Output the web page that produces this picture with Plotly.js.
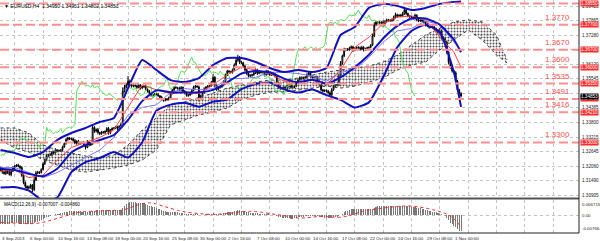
<!DOCTYPE html>
<html><head><meta charset="utf-8">
<script src="https://cdn.plot.ly/plotly-3.0.1.min.js"></script>
<style>body{margin:0;background:#fff}#c{width:600px;height:241px}</style>
</head><body><div id="c"></div>
<script>
// ---- price data (H4 bars, bar 0 = 3 Sep 2013 08:00) ----
const firstOpen = 1.3190;
const closes = [
1.3195,1.3182,1.3176,1.3188,
1.3180,1.3172,1.3185,1.3198,1.3206,1.3210,
1.3205,1.3200,1.3168,1.3140,1.3125,1.3118,
1.3122,1.3130,1.3112,1.3150,1.3178,1.3182,
1.3180,1.3192,1.3215,1.3232,1.3248,1.3252,
1.3250,1.3262,1.3258,1.3270,1.3266,1.3268,
1.3270,1.3282,1.3296,1.3312,1.3318,1.3314,
1.3315,1.3308,1.3298,1.3305,1.3296,1.3300,
1.3300,1.3292,1.3280,1.3302,1.3290,1.3296,
1.3360,1.3345,1.3352,1.3340,1.3335,1.3342,
1.3340,1.3345,1.3356,1.3338,1.3350,1.3357,
1.3358,1.3362,1.3356,1.3365,1.3372,1.3505,
1.3520,1.3530,1.3545,1.3532,1.3525,1.3528,
1.3526,1.3520,1.3530,1.3518,1.3522,1.3525,
1.3512,1.3505,1.3496,1.3490,1.3488,1.3494,
1.3492,1.3486,1.3480,1.3472,1.3468,1.3474,
1.3472,1.3478,1.3495,1.3510,1.3520,1.3518,
1.3516,1.3510,1.3520,1.3505,1.3498,1.3488,
1.3490,1.3495,1.3508,1.3520,1.3525,1.3522,
1.3475,1.3485,1.3500,1.3515,1.3522,1.3525,
1.3526,1.3540,1.3560,1.3530,1.3512,1.3520,
1.3522,1.3530,1.3545,1.3570,1.3585,1.3582,
1.3580,1.3590,1.3610,1.3628,1.3640,1.3620,
1.3618,1.3605,1.3590,1.3575,1.3565,1.3568,
1.3570,1.3578,1.3590,1.3576,1.3582,1.3580,
1.3578,1.3570,1.3585,1.3575,1.3570,1.3575,
1.3572,1.3565,1.3540,1.3520,1.3515,1.3518,
1.3520,1.3515,1.3525,1.3530,1.3520,1.3522,
1.3525,1.3540,1.3550,1.3560,1.3555,1.3558,
1.3560,1.3570,1.3578,1.3565,1.3560,1.3562,
1.3560,1.3545,1.3530,1.3510,1.3505,1.3508,
1.3505,1.3498,1.3490,1.3510,1.3525,1.3528,
1.3530,1.3565,1.3615,1.3645,1.3670,1.3672,
1.3670,1.3676,1.3682,1.3668,1.3675,1.3680,
1.3678,1.3672,1.3680,1.3670,1.3675,1.3678,
1.3680,1.3688,1.3725,1.3770,1.3780,1.3778,
1.3775,1.3780,1.3770,1.3782,1.3790,1.3788,
1.3786,1.3790,1.3800,1.3810,1.3805,1.3808,
1.3805,1.3815,1.3828,1.3815,1.3805,1.3802,
1.3800,1.3795,1.3808,1.3790,1.3785,1.3788,
1.3785,1.3780,1.3770,1.3765,1.3760,1.3762,
1.3760,1.3752,1.3748,1.3740,1.3745,1.3720,
1.3715,1.3700,1.3660,1.3620,1.3600,1.3585,
1.3578,1.3545,1.3510,1.3495,1.3485];
// wick lengths in pips above / below the body
const upWick = [
8,5,6,4, 3,6,5,7,4,3, 5,4,6,8,5,4, 6,5,4,12,8,5, 3,5,6,4,7,3, 6,4,5,7,3,4,
3,5,4,6,5,4, 5,3,6,4,5,3, 4,5,3,8,4,3, 12,5,4,6,3,4, 4,3,5,6,4,3, 3,4,5,4,6,15,
10,8,20,6,5,4, 4,5,6,3,5,4, 6,4,5,3,4,3, 4,5,3,6,4,3, 3,5,6,4,5,4, 4,6,5,3,4,5,
3,4,5,6,4,3, 5,6,4,5,3,4, 4,6,12,5,4,3, 3,5,4,6,5,4, 4,5,6,8,10,5, 5,4,6,3,5,4,
4,5,6,4,5,3, 3,6,5,4,3,4, 4,5,6,3,5,4, 5,4,6,5,4,3, 4,5,6,4,3,4, 5,6,4,5,3,4,
4,5,3,6,4,3, 4,5,6,7,5,4, 3,8,10,6,8,4, 5,6,5,4,6,3, 4,5,6,4,3,4, 3,5,8,10,6,4,
6,4,8,5,4,3, 4,5,6,8,4,3, 5,6,8,4,3,4, 4,5,6,3,4,3, 4,5,3,6,4,3, 5,4,6,5,12,6,
4,5,6,4,5,3, 4,6,5,4,6];
const lowWick = [
5,7,4,6, 6,4,7,3,5,4, 4,6,5,7,9,6, 5,7,10,6,4,5, 6,4,3,5,4,6, 4,6,7,3,5,4,
5,4,3,5,6,4, 4,6,5,7,4,5, 5,4,8,3,6,4, 6,7,5,8,6,4, 5,6,4,7,5,4, 4,5,6,5,4,6,
6,5,4,8,6,5, 5,6,4,7,5,4, 4,6,5,7,6,4, 5,4,6,7,5,4, 6,5,4,3,5,4, 5,4,6,7,6,5,
6,5,4,3,5,4, 12,5,4,6,5,4, 5,4,6,10,6,4, 5,4,6,3,5,4, 4,5,3,4,6,7, 5,6,7,6,5,4,
6,4,5,7,4,5, 5,6,4,6,5,4, 4,6,8,6,5,4, 6,5,4,6,5,4, 5,4,3,5,6,4, 4,5,6,7,5,4,
5,6,7,6,5,4, 5,6,8,5,4,5, 4,5,6,5,4,6, 5,4,6,7,4,5, 5,6,4,7,5,4, 5,4,3,5,6,5,
5,7,8,5,4,6, 5,4,6,5,7,4, 5,4,6,7,6,5, 6,5,4,7,5,4, 5,6,7,5,6,4, 5,6,4,7,8,10,
6,7,8,9,7,6, 6,8,7,6,5];

// ---- indicators read at every 8th bar ----
const indBars = [0,8,16,24,32,40,48,56,64,72,80,88,96,104,112,120,128,136,144,152,160,168,176,184,192,200,208,216,224,232,240,248,256,260];
const bbUpper = [1.3270,1.3258,1.3242,1.3262,1.3310,1.3338,1.3358,1.3382,1.3398,1.3517,1.3629,1.3589,1.3549,1.3541,1.3557,1.3609,1.3637,1.3637,1.3621,1.3597,1.3581,1.3589,1.3581,1.3597,1.3729,1.3761,1.3837,1.3853,1.3845,1.3829,1.3837,1.3853,1.3861,1.3863];
const bbMiddle = [1.3195,1.3190,1.3175,1.3165,1.3195,1.3260,1.3290,1.3310,1.3330,1.3390,1.3465,1.3508,1.3500,1.3500,1.3500,1.3510,1.3540,1.3575,1.3585,1.3580,1.3555,1.3540,1.3550,1.3535,1.3560,1.3600,1.3650,1.3715,1.3765,1.3795,1.3795,1.3770,1.3710,1.3660];
const bbLower = [1.3120,1.3122,1.3108,1.3068,1.3080,1.3182,1.3222,1.3238,1.3262,1.3240,1.3301,1.3427,1.3451,1.3459,1.3443,1.3463,1.3471,1.3513,1.3533,1.3539,1.3513,1.3499,1.3511,1.3489,1.3470,1.3440,1.3460,1.3560,1.3680,1.3745,1.3770,1.3740,1.3580,1.3442];
const tenkan = [1.3185,1.3190,1.3160,1.3170,1.3230,1.3280,1.3300,1.3320,1.3350,1.3440,1.3530,1.3510,1.3495,1.3500,1.3495,1.3530,1.3570,1.3600,1.3590,1.3575,1.3545,1.3540,1.3550,1.3530,1.3590,1.3680,1.3720,1.3775,1.3800,1.3805,1.3790,1.3720,1.3660,1.3600];
const kijun = [1.3200,1.3200,1.3180,1.3160,1.3180,1.3210,1.3240,1.3270,1.3320,1.3410,1.3440,1.3450,1.3500,1.3515,1.3510,1.3515,1.3555,1.3555,1.3560,1.3580,1.3580,1.3575,1.3565,1.3545,1.3580,1.3590,1.3640,1.3700,1.3745,1.3755,1.3785,1.3770,1.3700,1.3670];
const cloudBars = [0,8,16,24,32,40,48,56,64,72,80,88,96,104,112,120,128,136,144,152,160,168,176,184,192,200,208,216,224,232,240,248,256,264,272,280,286];
const senkouA = [1.3358,1.3358,1.3338,1.3290,1.3270,1.3258,1.3246,1.3238,1.3250,1.3290,1.3350,1.3398,1.3450,1.3462,1.3478,1.3497,1.3517,1.3529,1.3541,1.3549,1.3549,1.3557,1.3569,1.3581,1.3589,1.3597,1.3605,1.3621,1.3649,1.3689,1.3729,1.3757,1.3781,1.3789,1.3781,1.3729,1.3629];
const senkouB = [1.3310,1.3278,1.3262,1.3230,1.3210,1.3190,1.3182,1.3190,1.3198,1.3210,1.3230,1.3270,1.3370,1.3390,1.3410,1.3422,1.3438,1.3470,1.3489,1.3501,1.3501,1.3509,1.3517,1.3525,1.3517,1.3525,1.3541,1.3557,1.3589,1.3609,1.3621,1.3669,1.3709,1.3749,1.3709,1.3649,1.3617];

// ---- MACD(12,26,9) histogram per bar, signal every 4th bar ----
const macdMain = [
-0.0036,-0.0037,-0.0038,-0.0038,-0.0037,-0.0036,-0.0035,-0.0035,-0.0034,-0.0034,-0.0035,-0.0036,-0.0037,-0.0038,-0.0039,-0.0038,
-0.0038,-0.0037,-0.0036,-0.0034,-0.0030,-0.0027, -0.0024,-0.0021,-0.0017,-0.0013,-0.0009,-0.0006,
-0.0003,0.0000,0.0002,0.0004,0.0006,0.0007, 0.0009,0.0011,0.0013,0.0015,0.0017,0.0018,
0.0019,0.0019,0.0019,0.0019,0.0018,0.0018, 0.0017,0.0016,0.0016,0.0017,0.0017,0.0017,
0.0020,0.0021,0.0022,0.0022,0.0022,0.0022, 0.0022,0.0022,0.0023,0.0022,0.0022,0.0022,
0.0022,0.0022,0.0022,0.0022,0.0023,0.0033, 0.0042,0.0049,0.0055,0.0057,0.0058,0.0058,
0.0057,0.0056,0.0055,0.0054,0.0053,0.0052, 0.0049,0.0046,0.0043,0.0040,0.0037,0.0035,
0.0032,0.0029,0.0026,0.0023,0.0020,0.0018, 0.0016,0.0015,0.0015,0.0015,0.0015,0.0014,
0.0013,0.0012,0.0012,0.0010,0.0008,0.0006, 0.0005,0.0005,0.0005,0.0006,0.0006,0.0006,
0.0003,0.0002,0.0002,0.0003,0.0004,0.0005, 0.0006,0.0007,0.0009,0.0008,0.0007,0.0007,
0.0007,0.0008,0.0009,0.0011,0.0013,0.0014, 0.0015,0.0016,0.0018,0.0020,0.0022,0.0022,
0.0021,0.0019,0.0017,0.0015,0.0013,0.0012, 0.0011,0.0010,0.0010,0.0009,0.0008,0.0007,
0.0006,0.0005,0.0005,0.0004,0.0003,0.0003, 0.0002,0.0001,-0.0002,-0.0005,-0.0008,-0.0010,
-0.0011,-0.0013,-0.0013,-0.0013,-0.0014,-0.0014, -0.0013,-0.0011,-0.0009,-0.0007,-0.0006,-0.0005,
-0.0004,-0.0002,-0.0001,-0.0001,-0.0001,-0.0001, -0.0001,-0.0003,-0.0005,-0.0007,-0.0009,-0.0010,
-0.0010,-0.0011,-0.0012,-0.0011,-0.0009,-0.0008, -0.0007,-0.0004,0.0002,0.0008,0.0014,0.0018,
0.0021,0.0024,0.0026,0.0027,0.0028,0.0029, 0.0029,0.0028,0.0028,0.0027,0.0027,0.0026,
0.0026,0.0027,0.0030,0.0034,0.0037,0.0039, 0.0040,0.0040,0.0040,0.0040,0.0041,0.0041,
0.0041,0.0041,0.0041,0.0042,0.0042,0.0041, 0.0041,0.0041,0.0042,0.0041,0.0040,0.0039,
0.0038,0.0036,0.0035,0.0034,0.0032,0.0031, 0.0029,0.0027,0.0025,0.0023,0.0021,0.0019,
0.0017,0.0015,0.0013,0.0010,0.0008,0.0004, 0.0001,-0.0004,-0.0012,-0.0022,-0.0031,-0.0038,
-0.0044,-0.0052,-0.0060,-0.0066,-0.0070];
const sigBars = [0,4,8,12,16,20,24,28,32,36,40,44,48,52,56,60,64,68,72,76,80,84,88,92,96,100,104,108,112,116,120,124,128,132,136,140,144,148,152,156,160,164,168,172,176,180,184,188,192,196,200,204,208,212,216,220,224,228,232,236,240,244,248,252,256,260];
const macdSignal = [-0.0030,-0.0032,-0.0034,-0.0035,-0.0036,-0.0035,-0.0030,-0.0022,-0.0013,-0.0004,0.0006,0.0013,0.0017,0.0018,0.0019,0.0021,0.0022,0.0022,0.0030,0.0042,0.0051,0.0055,0.0050,0.0040,0.0031,0.0022,0.0016,0.0011,0.0008,0.0005,0.0004,0.0006,0.0008,0.0012,0.0016,0.0018,0.0017,0.0013,0.0008,0.0004,-0.0001,-0.0007,-0.0011,-0.0011,-0.0008,-0.0004,-0.0005,-0.0008,-0.0008,-0.0003,0.0007,0.0017,0.0024,0.0028,0.0032,0.0036,0.0039,0.0041,0.0041,0.0037,0.0032,0.0025,0.0017,0.0006,-0.0015,-0.0049];

// ---- axis labels / levels ----
const timeTickBars = [0,16,32,48,64,80,96,112,128,144,160,176,192,208,224,240,256];
const timeTickLabels = ["3 Sep 2013","6 Sep 00:00","10 Sep 16:00","13 Sep 08:00","18 Sep 00:00","20 Sep 16:00","25 Sep 08:00","30 Sep 00:00","2 Oct 16:00","7 Oct 08:00","10 Oct 00:00","14 Oct 16:00","17 Oct 08:00","22 Oct 00:00","24 Oct 16:00","29 Oct 08:00","1 Nov 00:00"];
const priceTicks = [1.30905,1.31490,1.32060,1.32645,1.33215,1.33800,1.34385,1.34965,1.35545,1.36120,1.36700,1.37280,1.37865,1.38425];
const priceTickShown = ["1.30905","1.31490","1.32060","1.32645","1.33215","1.33800","1.34385","","1.35545","1.36120","","1.37280","1.37865","1.38425"];
const levelPrices = [1.3855,1.3770,1.3670,1.3600,1.3535,1.3474,1.3421,1.3300];
const levelTexts = ["","1.3770","1.3670","1.3600","1.3535","1.3491","1.3416","1.3300"];
const levelBoxTexts = ["1.38550","1.37700","1.36700","1.36000","1.35350","1.34740","1.34210","1.33000"];
const lastPrice = 1.34853;
const headerText = "\u25BC EURUSD,H4  1.34950 1.34951 1.34802 1.34853";
const macdHeader = "MACD(12,26,9) -0.007007 -0.004860";
const macdRange = [-0.00766, 0.006715];
const priceRange = [1.30785, 1.38685];

// ---- build traces ----
const bars = closes.map((_, i) => i);
const opens = closes.map((c, i) => i === 0 ? firstOpen : closes[i - 1]);
const highs = closes.map((c, i) => Math.max(opens[i], c) + upWick[i] * 0.0001);
const lows = closes.map((c, i) => Math.min(opens[i], c) - lowWick[i] * 0.0001);
const chikouX = [], chikouY = [];
for (let i = 26; i < closes.length; i++) { chikouX.push(i - 26); chikouY.push(closes[i]); }

const FONT = 'Liberation Sans, Arial, sans-serif';
const traces = [
  {x: cloudBars, y: senkouB, type: 'scatter', mode: 'lines', line: {color: '#444', width: 1, dash: 'dot'}, hoverinfo: 'skip'},
  {x: cloudBars, y: senkouA, type: 'scatter', mode: 'lines', line: {color: '#444', width: 1, dash: 'dot'}, fill: 'tonexty',
   fillcolor: 'rgba(0,0,0,0)', fillpattern: {shape: '.', fgcolor: '#555', bgcolor: 'rgba(255,255,255,0)', size: 3, solidity: 0.35}, hoverinfo: 'skip'},
  {x: chikouX, y: chikouY, type: 'scatter', mode: 'lines', line: {color: '#55e055', width: 1}},
  {x: indBars, y: kijun, type: 'scatter', mode: 'lines', line: {color: '#7a7aff', width: 1}},
  {x: indBars, y: tenkan, type: 'scatter', mode: 'lines', line: {color: '#ff4040', width: 1}},
  {x: indBars, y: bbUpper, type: 'scatter', mode: 'lines', line: {color: '#1010c0', width: 2, shape: 'spline', smoothing: 0.5}},
  {x: indBars, y: bbMiddle, type: 'scatter', mode: 'lines', line: {color: '#1010c0', width: 2, shape: 'spline', smoothing: 0.5}},
  {x: indBars, y: bbLower, type: 'scatter', mode: 'lines', line: {color: '#1010c0', width: 2, shape: 'spline', smoothing: 0.5}},
  {x: bars, open: opens, high: highs, low: lows, close: closes, type: 'candlestick',
   increasing: {line: {color: '#000', width: 1}, fillcolor: '#fff'},
   decreasing: {line: {color: '#000', width: 1}, fillcolor: '#000'}, whiskerwidth: 0},
  {x: bars, y: macdMain, type: 'bar', yaxis: 'y2', marker: {color: '#7a7a7a', line: {width: 0}}, width: 0.6},
  {x: sigBars, y: macdSignal, type: 'scatter', mode: 'lines', yaxis: 'y2', line: {color: '#ff2020', width: 1, dash: 'dot', shape: 'spline', smoothing: 0.5}}
];

const shapes = [];
levelPrices.forEach(p => shapes.push({type: 'line', xref: 'paper', x0: 0, x1: 1, yref: 'y', y0: p, y1: p,
  line: {color: '#ff8f8f', width: 2, dash: '9px,4px'}}));
shapes.push({type: 'line', xref: 'paper', x0: 0, x1: 1, yref: 'paper', y0: 0.1485, y1: 0.1485, line: {color: '#555', width: 2}});
shapes.push({type: 'line', xref: 'paper', x0: 1, x1: 1, yref: 'paper', y0: 0, y1: 1, line: {color: '#222', width: 1}});
shapes.push({type: 'line', xref: 'paper', x0: 0, x1: 1, yref: 'paper', y0: 0, y1: 0, line: {color: '#222', width: 1}});

const ann = [];
priceTicks.forEach((p, i) => { if (priceTickShown[i]) ann.push({xref: 'paper', x: 1, xanchor: 'left', xshift: 1, yref: 'y', y: p, yanchor: 'middle',
  text: priceTickShown[i], showarrow: false, font: {family: FONT, size: 4.6, color: '#222'}}); });
levelPrices.forEach((p, i) => {
  ann.push({xref: 'paper', x: 1, xanchor: 'left', xshift: 1, yref: 'y', y: p, yanchor: 'middle', text: levelBoxTexts[i], showarrow: false,
    bgcolor: '#ff2a2a', borderpad: 0, font: {family: FONT, size: 4.6, color: '#fff'}});
  if (levelTexts[i]) ann.push({xref: 'paper', x: 0.988, xanchor: 'right', yref: 'y', y: p, yanchor: 'bottom', yshift: 1, text: levelTexts[i],
    showarrow: false, font: {family: FONT, size: 8, color: '#ff4d4d'}});
});
ann.push({xref: 'paper', x: 1, xanchor: 'left', xshift: 1, yref: 'y', y: lastPrice, yanchor: 'middle', text: lastPrice.toFixed(5), showarrow: false,
  bgcolor: '#000', borderpad: 0, font: {family: FONT, size: 4.6, color: '#fff'}});
timeTickBars.forEach((b, i) => ann.push({xref: 'x', x: b, xanchor: 'left', xshift: -1, yref: 'paper', y: 0, yanchor: 'top', yshift: -1,
  text: timeTickLabels[i], showarrow: false, font: {family: FONT, size: 4.4, color: '#222'}}));
ann.push({xref: 'paper', x: 0, xanchor: 'left', xshift: 2, yref: 'paper', y: 1, yanchor: 'top', yshift: -1, text: headerText, showarrow: false,
  font: {family: FONT, size: 5, color: '#000'}});
ann.push({xref: 'paper', x: 0, xanchor: 'left', xshift: 2, yref: 'paper', y: 0.1416, yanchor: 'top', text: macdHeader, showarrow: false,
  font: {family: FONT, size: 4.6, color: '#000'}});
[[macdRange[1], 'top', '0.006715'], [0, 'middle', '0.00'], [macdRange[0], 'bottom', '-0.00766']].forEach(t =>
  ann.push({xref: 'paper', x: 1, xanchor: 'left', xshift: 1, yref: 'y2', y: t[0], yanchor: t[1], text: t[2], showarrow: false,
    font: {family: FONT, size: 4.4, color: '#222'}}));

const gridBars = [];
for (let b = 8; b < 330; b += 16) gridBars.push(b);

const layout = {
  width: 600, height: 241, margin: {l: 0, r: 21, t: 0, b: 8},
  paper_bgcolor: '#fff', plot_bgcolor: '#fff', showlegend: false, bargap: 0,
  xaxis: {range: [-0.3, 326.6], tickvals: gridBars, showticklabels: false, ticks: '', showgrid: true, gridcolor: '#c4c4c4', griddash: 'dot',
    gridwidth: 1, zeroline: false, showline: false, rangeslider: {visible: false}, anchor: 'y2', fixedrange: true},
  yaxis: {domain: [0.1502, 1], range: priceRange, tickvals: priceTicks, showticklabels: false, ticks: '', showgrid: true,
    gridcolor: '#c4c4c4', griddash: 'dot', zeroline: false, showline: false},
  yaxis2: {domain: [0, 0.1416], range: macdRange, tickvals: [0], showticklabels: false, ticks: '', showgrid: true,
    gridcolor: '#c4c4c4', griddash: 'dot', zeroline: false, showline: false},
  shapes: shapes, annotations: ann
};
Plotly.newPlot('c', traces, layout, {staticPlot: true, displayModeBar: false});
</script></body></html>
